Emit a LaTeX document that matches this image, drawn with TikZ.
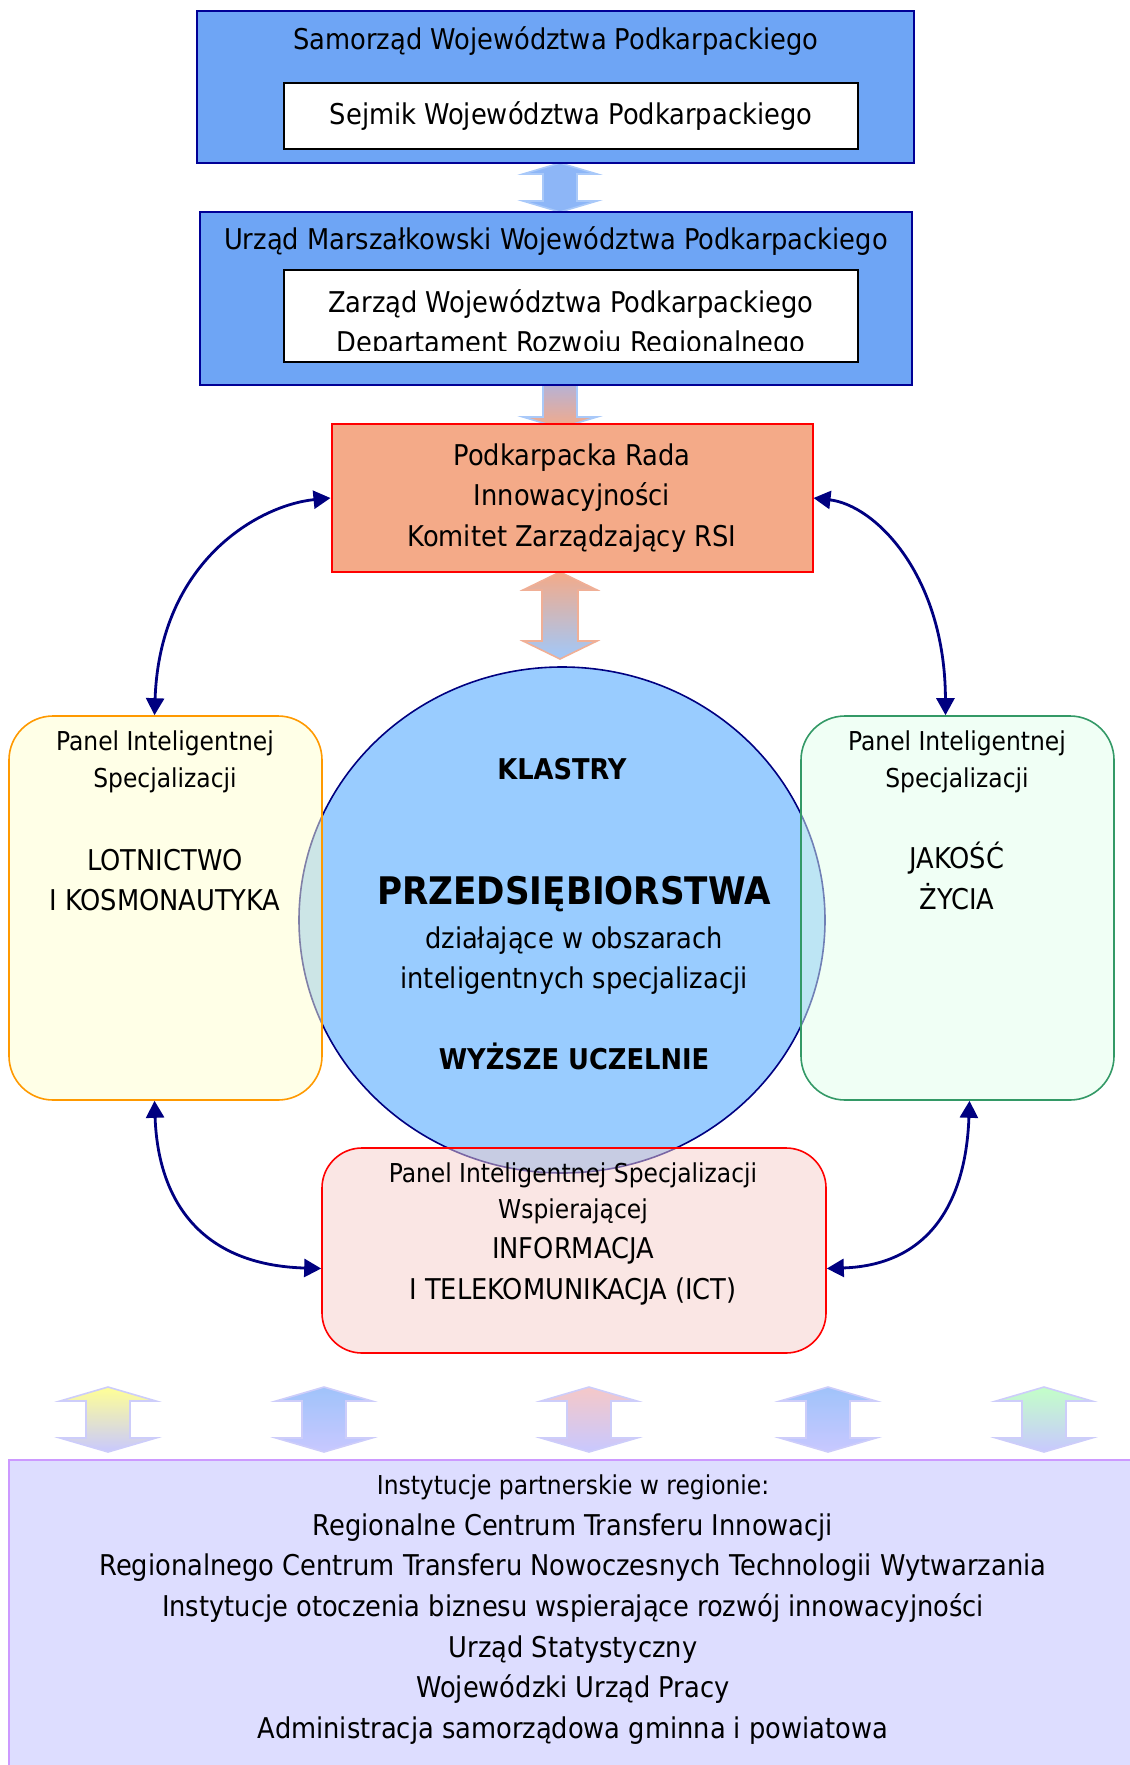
\documentclass[tikz,border=0pt]{standalone}
\usepackage{fontspec}
\setmainfont{DejaVu Sans Condensed}
\usetikzlibrary{shapes.geometric, arrows.meta}

\definecolor{boxblue}{RGB}{110,165,245}
\definecolor{navyline}{RGB}{0,0,150}
\definecolor{radafill}{RGB}{244,170,136}
\definecolor{radaline}{RGB}{240,175,150}
\definecolor{circfill}{RGB}{153,204,255}
\definecolor{circline}{RGB}{0,0,128}
\definecolor{yellowfill}{RGB}{255,255,207}
\definecolor{greenfill}{RGB}{225,255,235}
\definecolor{pinkfill}{RGB}{245,205,201}
\definecolor{orangeline}{RGB}{255,153,0}
\definecolor{greenline}{RGB}{51,153,102}
\definecolor{navy}{RGB}{0,0,128}
\definecolor{instfill}{RGB}{221,221,255}
\definecolor{instline}{RGB}{204,153,255}
\definecolor{arrblue}{RGB}{141,182,247}
\definecolor{arrblueline}{RGB}{169,201,249}
\definecolor{arrmid}{RGB}{165,180,235}
\definecolor{arrlight}{RGB}{160,200,250}
\definecolor{arrlav}{RGB}{200,200,255}
\definecolor{arrline}{RGB}{205,205,250}
\definecolor{arryellow}{RGB}{255,255,150}
\definecolor{arrblue2}{RGB}{160,195,250}
\definecolor{arrpink}{RGB}{245,200,200}
\definecolor{arrgreen}{RGB}{195,255,200}

\newcommand{\txtmain}{\fontsize{14.3}{20.3}\selectfont}
\newcommand{\txtsmall}{\fontsize{13}{18.2}\selectfont}
\newcommand{\txtbig}{\fontsize{19}{24}\selectfont}

% podwojna strzalka: opcje, x, y gora, y dol, pol grotu, pol trzonu, dlugosc grotu
\newcommand{\dblarrow}[7]{%
  \shade[#1, line width=0.8pt] (#2,#3) -- (#2+#5,#3+#7) -- (#2+#6,#3+#7) -- (#2+#6,#4-#7) -- (#2+#5,#4-#7) -- (#2,#4) -- (#2-#5,#4-#7) -- (#2-#6,#4-#7) -- (#2-#6,#3+#7) -- (#2-#5,#3+#7) -- cycle;}

\tikzstyle{urzad} = [rectangle, draw=navyline, line width=0.75pt, fill=boxblue]
\tikzstyle{organ} = [rectangle, minimum width=287pt, text centered, draw=black, line width=0.75pt, fill=white]
\tikzstyle{rada} = [rectangle, minimum width=240.5pt, minimum height=74pt, align=center, font=\txtmain, draw=red, line width=1pt, fill=radafill]
\tikzstyle{panel} = [rectangle, rounded corners=22pt, minimum width=156.5pt, minimum height=192pt, line width=0.8pt, fill opacity=0.5]
\tikzstyle{arrow} = [line width=1.4pt, <->, >={Triangle[length=8.5pt, width=9pt]}, draw=navy]

\begin{document}
\begin{tikzpicture}[x=0.5pt, y=-0.5pt]
\useasboundingbox (0,0) rectangle (1129,1765);

% strzalki miedzy blokami
\dblarrow{top color=arrblue, bottom color=arrblue, draw=arrblueline}{560}{163}{212}{37}{17}{11}
\dblarrow{top color=arrmid, bottom color=radafill, draw=arrblueline}{560}{372}{428}{37}{17}{11}
\dblarrow{top color=radafill, bottom color=arrlight, draw=radaline}{560}{572}{659}{37}{18}{18}

\node (samorzad) [urzad, minimum width=358.5pt, minimum height=76pt] at (555.5,87) {};
\node (samorzadtxt) [font=\txtmain] at (556,41) {Samorząd Województwa Podkarpackiego};
\node (sejmik) [organ, minimum height=33pt, font=\txtmain] at (571,116) {Sejmik Województwa Podkarpackiego};

\node (marszalek) [urzad, minimum width=356pt, minimum height=86.5pt] at (556,298.5) {};
\node (marszalektxt) [font=\txtmain] at (556,241) {Urząd Marszałkowski Województwa Podkarpackiego};
\node (zarzad) [organ, minimum height=46pt] at (571,316) {};
\begin{scope}
  \clip ([yshift=6pt]zarzad.south west) rectangle (zarzad.north east);
  \node (zarzadtxt) [font=\txtmain, align=center] at (571,324) {Zarząd Województwa Podkarpackiego\\Departament Rozwoju Regionalnego};
\end{scope}

\node (rada) [rada] at (572,498) {Podkarpacka Rada\\Innowacyjności\\Komitet Zarządzający RSI};

% kolo
\node (klastry) [ellipse, minimum width=263pt, minimum height=253pt, inner sep=0pt, draw=circline, line width=0.8pt, fill=circfill] at (562,920) {};

% panele
\node (lotnictwo) [panel, draw=orangeline, fill=yellowfill] at (165.5,908) {};
\node (jakosc) [panel, draw=greenline, fill=greenfill] at (957.5,908) {};
\node (ict) [panel, minimum width=252pt, minimum height=102.5pt, rounded corners=20pt, draw=red, fill=pinkfill] at (574,1250.5) {};

\node (lotnictwo1) [font=\txtsmall, align=center] at (165,762) {Panel Inteligentnej\\Specjalizacji};
\node (lotnictwo2) [font=\txtmain, align=center] at (165,880) {LOTNICTWO\\I KOSMONAUTYKA};
\node (jakosc1) [font=\txtsmall, align=center] at (957,762) {Panel Inteligentnej\\Specjalizacji};
\node (jakosc2) [font=\txtmain, align=center] at (957,876) {JAKOŚĆ\\ŻYCIA};
\node (ict1) [font=\txtsmall, align=center] at (573,1193.5) {Panel Inteligentnej Specjalizacji\\Wspierającej};
\node (ict2) [font=\txtmain, align=center] at (573,1271) {INFORMACJA\\I TELEKOMUNIKACJA (ICT)};

\node (klastrytxt) [font=\txtmain\bfseries] at (562,769) {KLASTRY};
\node (przeds) [font=\txtbig\bfseries] at (574,894) {PRZEDSIĘBIORSTWA};
\node (dzial) [font=\txtmain, align=center] at (574,960.5) {działające w obszarach\\inteligentnych specjalizacji};
\node (uczelnie) [font=\txtmain\bfseries] at (574,1056) {WYŻSZE UCZELNIE};

\draw [arrow] (rada.west) .. controls (260,505) and (160,560) .. ([xshift=-5.5pt]lotnictwo.north);
\draw [arrow] (rada.east) .. controls (875,505) and (945,575) .. ([xshift=-6pt]jakosc.north);
\draw [arrow] ([xshift=-5.5pt]lotnictwo.south) .. controls (158,1200) and (200,1265) .. ([yshift=-9pt]ict.west);
\draw [arrow] ([xshift=6pt]jakosc.south) .. controls (966,1200) and (931,1265) .. ([yshift=-9pt]ict.east);

% instytucje partnerskie
\foreach \x/\kolor in {108/arryellow, 324/arrblue2, 589/arrpink, 828/arrblue2, 1044/arrgreen}
  \dblarrow{top color=\kolor, bottom color=arrlav, draw=arrline}{\x}{1387}{1452}{48}{22}{14};

\node (instytucje) [rectangle, minimum width=565.5pt, minimum height=160pt, draw=instline, line width=1pt, fill=instfill] at (574.5,1620) {};
\node (instytucjetxt) [font=\txtmain, align=center] at (573,1609.5) {{\txtsmall Instytucje partnerskie w regionie:}\\Regionalne Centrum Transferu Innowacji\\Regionalnego Centrum Transferu Nowoczesnych Technologii Wytwarzania\\Instytucje otoczenia biznesu wspierające rozwój innowacyjności\\Urząd Statystyczny\\Wojewódzki Urząd Pracy\\Administracja samorządowa gminna i powiatowa};
\end{tikzpicture}
\end{document}
